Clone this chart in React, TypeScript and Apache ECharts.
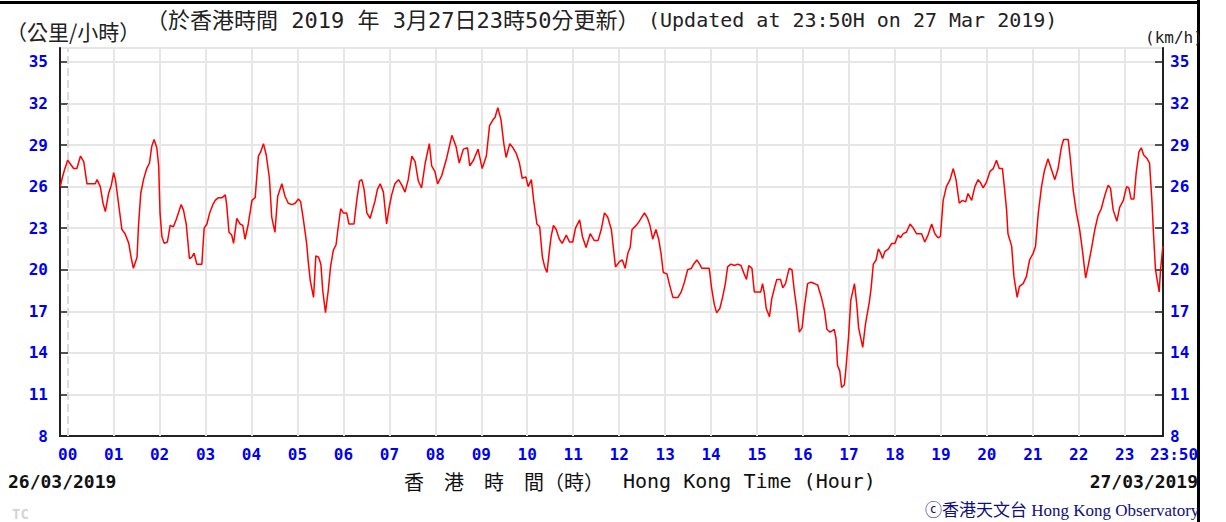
import React, { useEffect, useRef } from "react";
import * as echarts from "echarts";

// time in hours (Hong Kong Time, 27 Mar 2019; negative = previous day)
const times: number[] = [
  -0.16, -0.12, -0.07, 0.0, 0.13, 0.2, 0.28, 0.35, 0.42, 0.6, 0.64, 0.71, 0.77, 0.82, 0.89, 0.95,
  1.0, 1.04, 1.11, 1.18, 1.25, 1.33, 1.38, 1.43, 1.51, 1.54, 1.59, 1.65, 1.72, 1.78, 1.83, 1.88, 1.94, 1.98,
  2.01, 2.05, 2.1, 2.17, 2.23, 2.3, 2.36, 2.41, 2.47, 2.52, 2.58, 2.65, 2.7, 2.75, 2.81, 2.92, 2.97,
  3.03, 3.09, 3.16, 3.21, 3.28, 3.36, 3.43, 3.46, 3.51, 3.57, 3.61, 3.68, 3.75, 3.81, 3.86, 3.93,
  4.01, 4.08, 4.15, 4.2, 4.26, 4.32, 4.39, 4.44, 4.51, 4.57, 4.66, 4.73, 4.8, 4.88, 4.95,
  5.02, 5.07, 5.13, 5.2, 5.24, 5.28, 5.35, 5.4, 5.46, 5.51, 5.55, 5.61, 5.67, 5.72, 5.78, 5.84, 5.88, 5.94,
  6.0, 6.07, 6.12, 6.23, 6.29, 6.35, 6.4, 6.45, 6.51, 6.58, 6.64, 6.69, 6.74, 6.8, 6.87, 6.94, 6.99,
  7.05, 7.12, 7.2, 7.27, 7.34, 7.41, 7.49, 7.56, 7.63, 7.7, 7.78, 7.87, 7.92, 7.99,
  8.05, 8.14, 8.25, 8.36, 8.45, 8.52, 8.61, 8.7, 8.75, 8.83, 8.93,
  9.02, 9.11, 9.18, 9.25, 9.3, 9.36, 9.43, 9.49, 9.54, 9.62, 9.69, 9.76, 9.83, 9.89, 9.97,
  10.02, 10.09, 10.14, 10.21, 10.27, 10.33, 10.38, 10.43, 10.49, 10.52, 10.57, 10.63, 10.7, 10.76, 10.85, 10.92, 10.99,
  11.05, 11.14, 11.2, 11.28, 11.37, 11.46, 11.54, 11.61, 11.68, 11.75, 11.83, 11.88, 11.92,
  12.01, 12.07, 12.13, 12.19, 12.24, 12.28, 12.37, 12.44, 12.55, 12.62, 12.67, 12.73, 12.8, 12.86, 12.91, 12.96,
  13.04, 13.09, 13.17, 13.28, 13.35, 13.42, 13.49, 13.57, 13.62, 13.69, 13.75, 13.8, 13.89, 13.96,
  14.01, 14.07, 14.12, 14.19, 14.25, 14.31, 14.36, 14.43, 14.51, 14.58, 14.65, 14.72, 14.77, 14.82, 14.89, 14.94,
  15.01, 15.08, 15.12, 15.16, 15.2, 15.27, 15.32, 15.38, 15.43, 15.51, 15.56, 15.62, 15.67, 15.7, 15.76, 15.81, 15.86, 15.92, 15.98,
  16.03, 16.1, 16.17, 16.25, 16.32, 16.4, 16.47, 16.52, 16.59, 16.68, 16.72, 16.75, 16.8, 16.84, 16.9, 16.93, 16.99,
  17.04, 17.12, 17.17, 17.21, 17.3, 17.36, 17.44, 17.48, 17.53, 17.59, 17.64, 17.69, 17.73, 17.78, 17.86, 17.93,
  18.0, 18.07, 18.12, 18.18, 18.25, 18.33, 18.4, 18.47, 18.58, 18.65, 18.72, 18.8, 18.87, 18.94, 18.99,
  19.05, 19.12, 19.2, 19.27, 19.33, 19.4, 19.47, 19.54, 19.59, 19.67, 19.74, 19.81, 19.86, 19.92, 19.99,
  20.07, 20.14, 20.21, 20.27, 20.34, 20.39, 20.43, 20.46, 20.54, 20.59, 20.66, 20.71, 20.79, 20.86, 20.93,
  21.01, 21.06, 21.12, 21.19, 21.25, 21.33, 21.41, 21.48, 21.55, 21.62, 21.67, 21.77, 21.82, 21.88, 21.95,
  22.02, 22.08, 22.15, 22.2, 22.27, 22.35, 22.42, 22.49, 22.57, 22.64, 22.69, 22.75, 22.83, 22.89, 22.97,
  23.04, 23.09, 23.14, 23.2, 23.25, 23.31, 23.36, 23.41, 23.49, 23.54, 23.59, 23.63, 23.67, 23.71, 23.75, 23.78, 23.83,
];

// 10-minute mean wind speed (km/h)
const speeds: number[] = [
  26.0, 26.6, 27.2, 27.9, 27.3, 27.3, 28.2, 27.8, 26.2, 26.2, 26.5, 26.0, 24.8, 24.2, 25.5, 26.1,
  27.0, 26.5, 24.7, 22.9, 22.6, 21.9, 20.9, 20.1, 20.9, 23.1, 25.5, 26.5, 27.3, 27.7, 28.9, 29.4, 28.8, 27.5,
  24.1, 22.4, 21.9, 22.0, 23.2, 23.1, 23.6, 24.1, 24.7, 24.3, 23.3, 20.8, 20.9, 21.2, 20.4, 20.4, 23.0,
  23.3, 24.1, 24.7, 25.0, 25.2, 25.2, 25.4, 24.7, 22.7, 22.5, 21.9, 23.7, 23.3, 23.2, 22.2, 23.3,
  25.0, 25.2, 28.2, 28.5, 29.1, 28.3, 26.6, 23.8, 22.7, 25.3, 26.2, 25.3, 24.8, 24.7, 24.8,
  25.1, 24.9, 23.6, 21.9, 20.4, 19.2, 18.0, 21.0, 20.9, 20.4, 18.5, 16.9, 18.5, 20.2, 21.4, 21.8, 22.9, 24.4,
  24.1, 24.1, 23.3, 23.3, 25.0, 26.4, 26.5, 25.8, 24.1, 23.7, 24.4, 25.0, 25.8, 26.2, 25.6, 23.3, 24.4,
  25.4, 26.2, 26.5, 26.1, 25.6, 26.5, 28.2, 27.8, 26.4, 25.9, 27.7, 29.1, 27.5, 27.1,
  26.2, 26.8, 28.1, 29.7, 28.9, 27.7, 28.7, 28.8, 27.5, 27.9, 28.7,
  27.3, 28.2, 30.4, 30.8, 31.0, 31.7, 30.8, 29.1, 28.1, 29.1, 28.8, 28.4, 27.7, 26.6, 26.7,
  26.0, 26.5, 25.0, 23.3, 23.1, 20.9, 20.2, 19.8, 21.6, 22.4, 23.2, 22.9, 22.2, 21.9, 22.5, 22.0, 22.0,
  23.0, 23.6, 22.4, 21.6, 22.6, 22.1, 22.1, 22.9, 24.1, 23.8, 22.9, 21.4, 20.2,
  20.6, 20.7, 20.1, 21.2, 21.6, 22.9, 23.2, 23.5, 24.1, 23.7, 23.2, 22.2, 22.9, 22.2, 21.2, 19.8,
  19.7, 19.0, 18.0, 18.0, 18.4, 19.1, 20.0, 20.1, 20.4, 20.7, 20.4, 20.1, 20.1, 20.1,
  18.7, 17.5, 16.9, 17.2, 18.0, 19.0, 20.2, 20.4, 20.3, 20.4, 20.3, 19.7, 19.3, 20.3, 20.1, 18.4,
  18.4, 18.4, 19.0, 18.3, 17.2, 16.6, 17.9, 18.7, 19.3, 19.3, 18.7, 19.0, 19.7, 20.1, 20.0, 18.5, 17.3, 15.5, 15.8,
  17.3, 19.0, 19.1, 19.0, 18.9, 18.0, 17.0, 15.7, 15.5, 15.7, 15.0, 13.1, 12.7, 11.5, 11.7, 12.7, 15.1,
  17.8, 19.0, 17.5, 15.8, 14.4, 16.1, 17.6, 18.6, 20.4, 20.7, 21.5, 21.2, 20.8, 21.3, 21.5, 21.9,
  21.9, 22.5, 22.3, 22.6, 22.7, 23.3, 23.0, 22.6, 22.6, 22.0, 22.5, 23.3, 22.6, 22.3, 22.4,
  25.0, 26.0, 26.5, 27.3, 26.5, 24.8, 25.0, 24.9, 25.5, 25.0, 26.0, 26.5, 26.3, 25.9, 26.3,
  27.1, 27.3, 27.9, 27.3, 27.3, 25.7, 24.3, 22.6, 21.7, 19.5, 18.0, 18.8, 19.0, 19.5, 20.7,
  21.2, 21.7, 24.1, 26.0, 27.1, 28.0, 27.2, 26.5, 27.3, 28.8, 29.4, 29.4, 27.9, 25.7, 24.1,
  22.9, 21.4, 19.4, 20.2, 21.4, 22.9, 23.9, 24.4, 25.4, 26.1, 25.9, 24.3, 23.5, 24.5, 25.0,
  26.0, 25.9, 25.1, 25.1, 27.0, 28.5, 28.8, 28.3, 28.0, 27.7, 25.1, 22.4, 20.0, 19.2, 18.4, 20.0, 21.7,
];

const hourTicks: number[] = [
  0, 1, 2, 3, 4, 5, 6, 7, 8, 9, 10, 11, 12, 13, 14, 15, 16, 17, 18, 19, 20, 21, 22, 23, 23 + 50 / 60,
];
const hourLines: number[] = [0, 1, 2, 3, 4, 5, 6, 7, 8, 9, 10, 11, 12, 13, 14, 15, 16, 17, 18, 19, 20, 21, 22, 23];

const X_MIN = -10 / 60;
const X_MAX = 23 + 50 / 60;
const Y_MIN = 8;
const Y_MAX = 36;
const Y_STEP = 3;

const MONO = "'DejaVu Sans Mono', monospace";
const MONO_CJK = "'DejaVu Sans Mono', 'Noto Sans CJK TC', monospace";
const BLUE = "#0000f0";

export default function App() {
  const ref = useRef<HTMLDivElement>(null);

  useEffect(() => {
    if (!ref.current) return;
    const chart = echarts.init(ref.current, undefined, { renderer: "svg" });

    const data = times.map((t, i) => [t, speeds[i]]);

    const yAxisCommon = {
      type: "value" as const,
      min: Y_MIN,
      max: Y_MAX,
      interval: Y_STEP,
      axisLine: { show: true, onZero: false, lineStyle: { color: "#222", width: 2 } },
      axisTick: { show: true, inside: true, length: 8, lineStyle: { color: "#222", width: 1.5 } },
      axisLabel: {
        color: BLUE,
        fontFamily: MONO,
        fontWeight: "bold" as const,
        fontSize: 16,
        showMaxLabel: false,
        formatter: (v: number) => (v >= Y_MAX ? "" : String(v)),
      },
    };

    chart.setOption({
      animation: false,
      backgroundColor: "#ffffff",
      grid: {
        left: 60,
        top: 48,
        width: 1103,
        height: 388,
        show: true,
        borderColor: "#444",
        borderWidth: 1.5,
        containLabel: false,
      },
      xAxis: {
        type: "value",
        min: X_MIN,
        max: X_MAX,
        axisLine: { show: true, onZero: false, lineStyle: { color: "#222", width: 2 } },
        axisTick: {
          show: true,
          inside: true,
          length: 7,
          customValues: hourTicks,
          lineStyle: { color: "#222", width: 1.5 },
        },
        splitLine: { show: false },
        axisLabel: {
          customValues: hourTicks,
          color: BLUE,
          fontFamily: MONO,
          fontWeight: "bold",
          fontSize: 16,
          margin: 10,
          formatter: (v: number) => {
            if (v > 23.5) return "{e|23:50}";
            return String(Math.round(v)).padStart(2, "0");
          },
          rich: {
            e: {
              color: BLUE,
              fontFamily: MONO,
              fontWeight: "bold",
              fontSize: 16,
              padding: [0, 0, 0, 22],
            },
          },
        },
      },
      yAxis: [
        {
          ...yAxisCommon,
          position: "left",
          splitLine: { show: true, lineStyle: { color: "#e6e6e6", width: 2 } },
          axisLabel: { ...yAxisCommon.axisLabel, margin: 12 },
        },
        {
          ...yAxisCommon,
          position: "right",
          splitLine: { show: false },
          axisLabel: { ...yAxisCommon.axisLabel, margin: 7 },
        },
      ],
      series: [
        {
          type: "line",
          data,
          yAxisIndex: 0,
          showSymbol: false,
          symbol: "none",
          z: 3,
          lineStyle: { color: "#ff0000", width: 1.5 },
          markLine: {
            silent: true,
            z: 1,
            symbol: "none",
            label: { show: false },
            animation: false,
            lineStyle: { color: "#e6e6e6", width: 2, type: "solid" },
            data: hourLines.map((h) => ({
              xAxis: h,
              lineStyle: {
                color: h === 0 ? "#dcdcdc" : "#e6e6e6",
                width: 2,
                type: h === 0 ? "dashed" : "solid",
              },
            })),
          },
        },
      ],
      graphic: [
        { type: "rect", shape: { x: 0, y: 1, width: 1200, height: 3 }, style: { fill: "#000" }, silent: true },
        { type: "rect", shape: { x: 1197, y: 0, width: 3, height: 522 }, style: { fill: "#000" }, silent: true },
        {
          type: "text",
          x: 6,
          y: 31,
          style: {
            text: "（公里/小時）",
            font: "21px 'Noto Sans CJK TC'",
            fill: "#222",
            verticalAlign: "middle",
          },
        },
        {
          type: "text",
          x: 146,
          y: 20,
          style: {
            text: "（於香港時間 2019 年 3月27日23時50分更新）",
            font: `22px ${MONO_CJK}`,
            fill: "#222",
            verticalAlign: "middle",
          },
        },
        {
          type: "text",
          x: 648,
          y: 20,
          style: {
            text: "(Updated at 23:50H on 27 Mar 2019)",
            font: `20px ${MONO}`,
            fill: "#222",
            verticalAlign: "middle",
          },
        },
        {
          type: "text",
          x: 1145,
          y: 37,
          style: { text: "(km/h)", font: `16px ${MONO}`, fill: "#222", verticalAlign: "middle" },
        },
        {
          type: "text",
          x: 8,
          y: 481,
          style: {
            text: "26/03/2019",
            font: `bold 18px ${MONO}`,
            fill: "#111",
            verticalAlign: "middle",
          },
        },
        {
          type: "text",
          x: 1198,
          y: 481,
          style: {
            text: "27/03/2019",
            font: `bold 18px ${MONO}`,
            fill: "#111",
            align: "right",
            verticalAlign: "middle",
          },
        },
        {
          type: "text",
          x: 404,
          y: 481,
          style: {
            text: "香　港　時　間（時）",
            font: "20px 'Noto Sans CJK TC'",
            fill: "#111",
            verticalAlign: "middle",
          },
        },
        {
          type: "text",
          x: 623,
          y: 481,
          style: {
            text: "Hong Kong Time (Hour)",
            font: `20px ${MONO}`,
            fill: "#111",
            verticalAlign: "middle",
          },
        },
        {
          type: "text",
          x: 12,
          y: 514,
          style: {
            text: "TC",
            font: `bold 14px ${MONO}`,
            fill: "#d4d4d4",
            verticalAlign: "middle",
          },
        },
        {
          type: "text",
          x: 925,
          y: 510,
          style: {
            text: "ⓒ香港天文台 Hong Kong Observatory",
            font: "17px 'Liberation Serif', 'Noto Sans CJK TC', serif",
            fill: "#10107a",
            verticalAlign: "middle",
          },
        },
      ],
    });

    return () => chart.dispose();
  }, []);

  return (
    <div
      ref={ref}
      style={{ position: "fixed", left: 0, top: 0, width: 1226, height: 522, background: "#fff" }}
    />
  );
}
